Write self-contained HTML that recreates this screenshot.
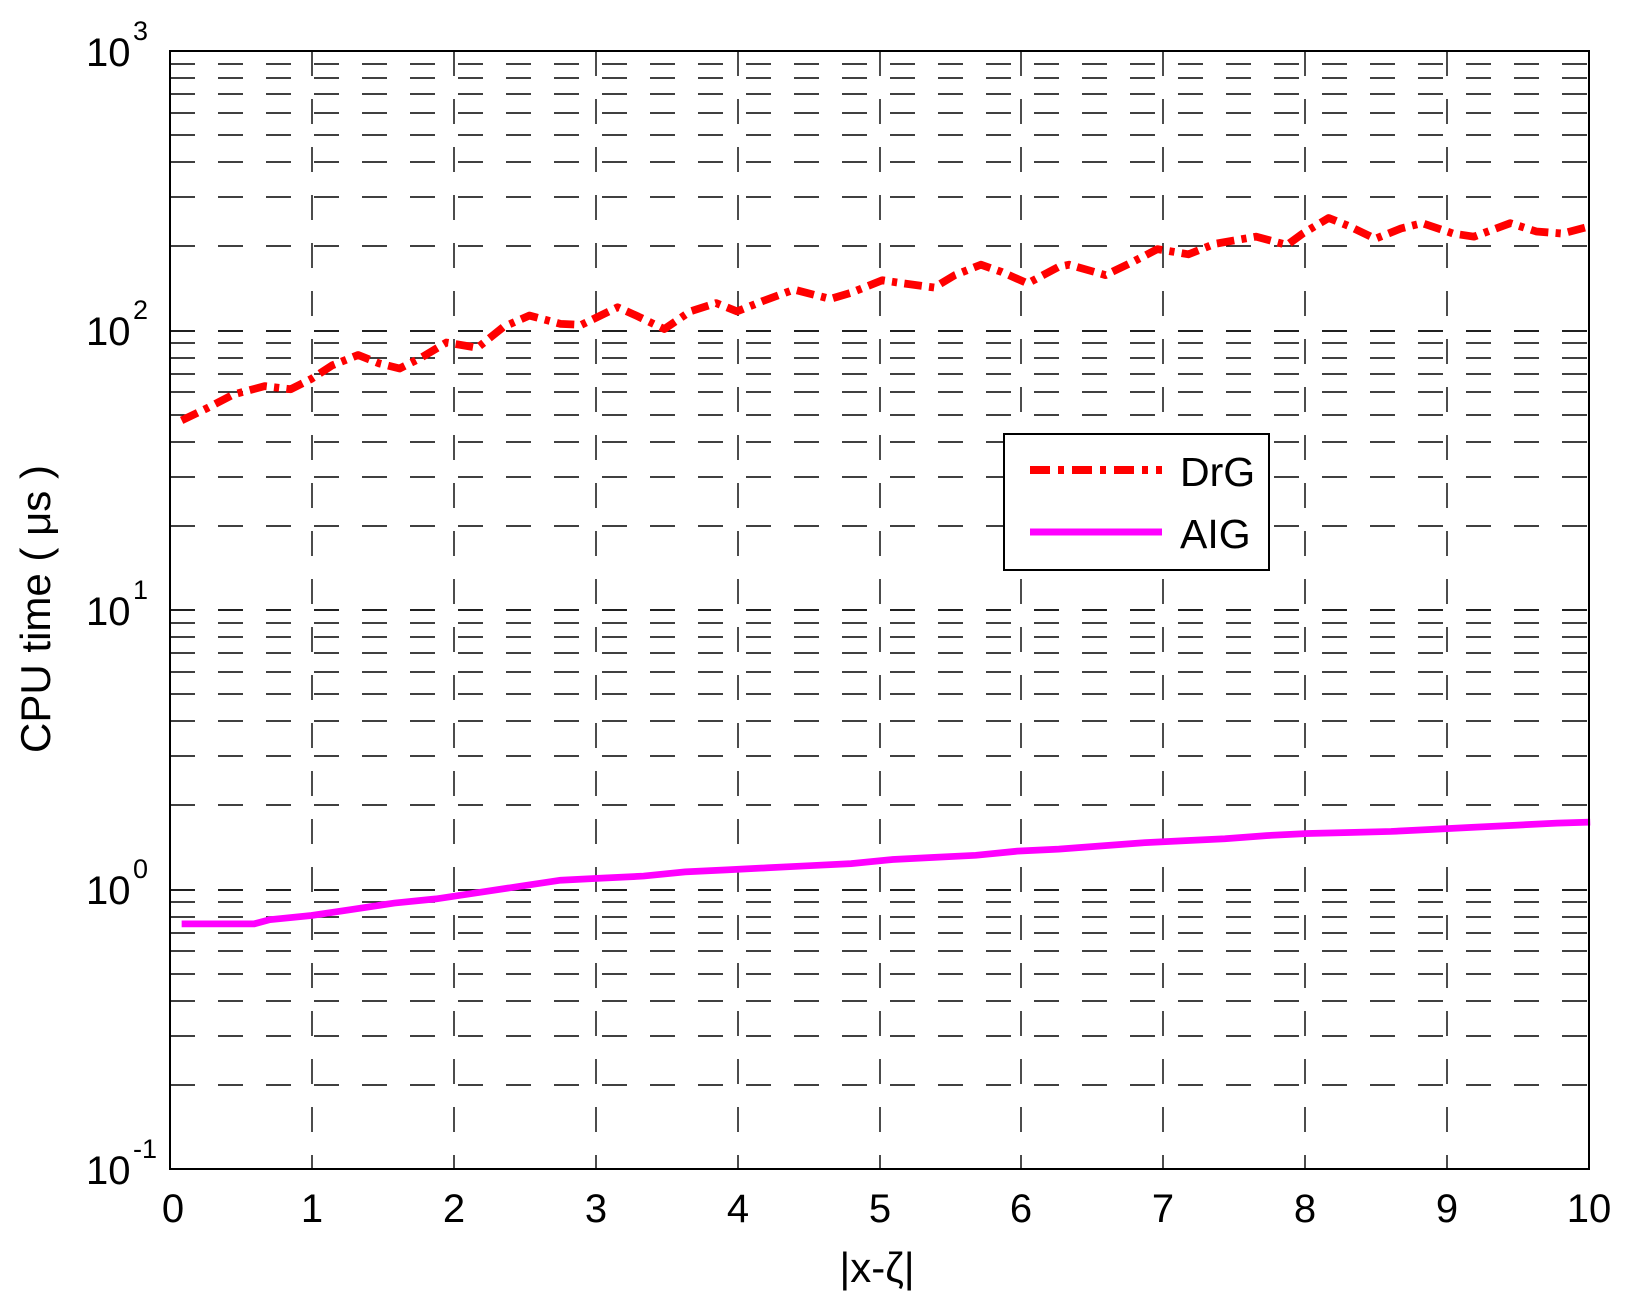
<!DOCTYPE html>
<html><head><meta charset="utf-8"><style>html,body{margin:0;padding:0;background:#fff}svg{display:block}</style></head>
<body>
<svg width="1626" height="1304" viewBox="0 0 1626 1304" xmlns="http://www.w3.org/2000/svg" font-family="'Liberation Sans', sans-serif">
<rect width="1626" height="1304" fill="#fff"/>
<g stroke="#000" stroke-width="1.4" stroke-dasharray="25 23" fill="none">
<path d="M170,64H1589M170,78H1589M170,94H1589M170,113H1589M170,135H1589M170,162H1589M170,197H1589M170,246H1589
M170,343H1589M170,358H1589M170,374H1589M170,392H1589M170,415H1589M170,442H1589M170,477H1589M170,526H1589
M170,623H1589M170,637H1589M170,653H1589M170,672H1589M170,694H1589M170,721H1589M170,756H1589M170,805H1589
M170,902H1589M170,917H1589M170,933H1589M170,951H1589M170,974H1589M170,1001H1589M170,1036H1589M170,1085H1589"/>
<path d="M312,51V1169M454,51V1169M596,51V1169M738,51V1169M880,51V1169M1021,51V1169M1163,51V1169M1305,51V1169M1447,51V1169"/>
<path d="M170,331H1589M170,610H1589M170,890H1589" stroke-width="1.8"/>
</g>
<g transform="scale(1.038)">
<polyline fill="none" stroke="#ff0000" stroke-width="7.5" stroke-linejoin="round" stroke-dasharray="17 7 5 7" points="175,405 200,393 225,380 255,372 280,375 300,365 320,352 345,342 365,350 385,355 405,345 430,330 460,335 485,315 510,304 540,312 560,313 595,296 615,305 640,317 665,300 690,292 710,300 735,290 765,279 800,288 820,282 850,270 870,273 900,277 920,265 945,255 965,262 990,273 1020,257 1030,255 1065,265 1090,253 1115,240 1145,245 1170,235 1210,228 1240,236 1255,225 1280,210 1300,218 1325,230 1350,220 1370,215 1400,225 1420,228 1455,215 1480,223 1505,225 1532,218"/>
<polyline fill="none" stroke="#ff00ff" stroke-width="6.5" points="175,890 245,890 260,886 300,882 340,876 380,870 420,866 460,860 500,854 540,848 580,846 620,844 660,840 700,838 740,836 780,834 820,832 860,828 900,826 940,824 980,820 1020,818 1060,815 1100,812 1140,810 1180,808 1220,805 1260,803 1300,802 1340,801 1380,799 1420,797 1460,795 1500,793 1532,792"/>
</g>
<rect x="170" y="51" width="1419" height="1118" fill="none" stroke="#000" stroke-width="2"/>
<rect x="1004" y="434" width="265" height="136" fill="#fff" stroke="#000" stroke-width="2"/>
<line x1="1030" y1="470" x2="1162" y2="470" stroke="#ff0000" stroke-width="8" stroke-dasharray="20 8 6 8"/>
<line x1="1030" y1="532" x2="1162" y2="532" stroke="#ff00ff" stroke-width="7"/>
<g font-size="41" fill="#000">
<text x="1180" y="486">DrG</text>
<text x="1180" y="548">AIG</text>
</g>
<g font-size="40" fill="#000" text-anchor="middle">
<text x="173" y="1222">0</text><text x="312" y="1222">1</text><text x="454" y="1222">2</text><text x="596" y="1222">3</text><text x="738" y="1222">4</text><text x="880" y="1222">5</text><text x="1021" y="1222">6</text><text x="1163" y="1222">7</text><text x="1305" y="1222">8</text><text x="1447" y="1222">9</text><text x="1589" y="1222">10</text>
</g>
<g font-size="40" fill="#000">
<text x="86" y="66">10</text><text x="133" y="40" font-size="27">3</text>
<text x="86" y="345">10</text><text x="133" y="319" font-size="27">2</text>
<text x="86" y="625">10</text><text x="133" y="599" font-size="27">1</text>
<text x="86" y="904">10</text><text x="133" y="878" font-size="27">0</text>
<text x="86" y="1184">10</text><text x="133" y="1158" font-size="27">-1</text>
</g>
<text x="877" y="1282" font-size="42" text-anchor="middle">|x-ζ|</text>
<text transform="translate(50,609) rotate(-90)" font-size="42" text-anchor="middle">CPU time ( μs )</text>
</svg>
</body></html>
